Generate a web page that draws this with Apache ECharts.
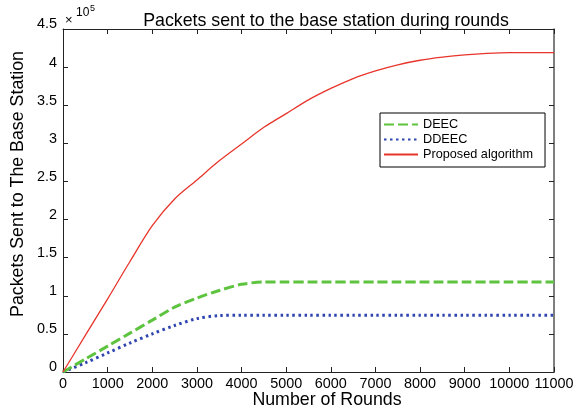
<!DOCTYPE html>
<html>
<head>
<meta charset="utf-8">
<script src="https://cdn.jsdelivr.net/npm/echarts@6/dist/echarts.min.js"></script>
<style>
  html, body { margin: 0; padding: 0; background: #fff; }
  #chart { width: 580px; height: 414px; }
</style>
</head>
<body>
<div id="chart"></div>
<script>
// Simulation rounds (x) sampled every 500 rounds
const rounds = [0, 500, 1000, 1500, 2000, 2500, 3000, 3500, 4000, 4500, 5000, 5500,
  6000, 6500, 7000, 7500, 8000, 8500, 9000, 9500, 10000, 10500, 11000];

// Cumulative packets delivered to the base station
const deec = [0, 17000, 34000, 51000, 68000, 85000, 97000, 107000, 115000, 118000, 118000, 118000,
  118000, 118000, 118000, 118000, 118000, 118000, 118000, 118000, 118000, 118000, 118000];
const ddeec = [0, 12000, 25000, 38000, 50000, 61000, 70000, 74000, 74500, 74500, 74500, 74500,
  74500, 74500, 74500, 74500, 74500, 74500, 74500, 74500, 74500, 74500, 74500];
const proposed = [0, 48000, 96000, 145000, 192000, 227000, 252000, 277000, 299000, 321000, 339000, 357000,
  372000, 385000, 395000, 403000, 409000, 413000, 416000, 418000, 419000, 419000, 419000];

const seriesNames = ['DEEC', 'DDEEC', 'Proposed algorithm'];
const xTicks = { min: 0, max: 11000, step: 1000 };
const yTicks = { min: 0, max: 450000, step: 50000 };

const pairs = ys => rounds.map((r, i) => [r, ys[i]]);

const chart = echarts.init(document.getElementById('chart'), null, { renderer: 'canvas' });
const font = 'Liberation Sans, Arial, Helvetica, sans-serif';
const axisColor = '#222';

const tickLabel = { color: '#000', fontSize: 14.4, fontFamily: font };

chart.setOption({
  backgroundColor: '#fff',
  animation: false,
  title: {
    text: 'Packets sent to the base station during rounds',
    left: 321, top: 7, textAlign: 'center',
    textStyle: { color: '#000', fontSize: 17.8, fontWeight: 'normal', fontFamily: font }
  },
  grid: { left: 63, right: 26, top: 29, bottom: 42, containLabel: false },
  legend: {
    orient: 'vertical',
    left: 380, top: 113,
    itemWidth: 34, itemHeight: 12, itemGap: 2,
    padding: [5, 12, 6, 3],
    borderColor: '#000', borderWidth: 1, backgroundColor: '#fff',
    itemStyle: { opacity: 0 },
    textStyle: { color: '#000', fontSize: 12.7, fontFamily: font },
    data: seriesNames
  },
  xAxis: [{
    type: 'value', min: xTicks.min, max: xTicks.max, interval: xTicks.step,
    axisLine: { show: true, onZero: false, lineStyle: { color: axisColor, width: 1 } },
    axisTick: { show: true, inside: true, length: 5, lineStyle: { color: axisColor } },
    axisLabel: Object.assign({ margin: 5, hideOverlap: false, formatter: v => String(v) }, tickLabel),
    splitLine: { show: false }
  }, {
    type: 'value', position: 'top', min: xTicks.min, max: xTicks.max, interval: xTicks.step,
    axisLine: { show: true, onZero: false, lineStyle: { color: axisColor, width: 1 } },
    axisTick: { show: true, inside: true, length: 5, lineStyle: { color: axisColor } },
    axisLabel: { show: false }, splitLine: { show: false }
  }],
  yAxis: [{
    type: 'value', min: yTicks.min, max: yTicks.max, interval: yTicks.step,
    axisLine: { show: true, onZero: false, lineStyle: { color: axisColor, width: 1 } },
    axisTick: { show: true, inside: true, length: 5, lineStyle: { color: axisColor } },
    axisLabel: Object.assign({
      margin: 6, verticalAlign: 'bottom', lineHeight: 9,
      formatter: v => String(v / 100000)
    }, tickLabel),
    splitLine: { show: false }
  }, {
    type: 'value', position: 'right', min: yTicks.min, max: yTicks.max, interval: yTicks.step,
    axisLine: { show: true, onZero: false, lineStyle: { color: '#555', width: 1.5 } },
    axisTick: { show: true, inside: true, length: 5, lineStyle: { color: axisColor } },
    axisLabel: { show: false }, splitLine: { show: false }
  }],
  graphic: [{
    type: 'text', left: 65, top: 14,
    style: { text: '×', fill: '#000', fontSize: 13, fontFamily: font }
  }, {
    type: 'text', left: 76, top: 7,
    style: { text: '10', fill: '#000', fontSize: 12, fontFamily: font }
  }, {
    type: 'text', left: 90, top: 4,
    style: { text: '5', fill: '#000', fontSize: 9, fontFamily: font }
  }, {
    // x-axis title
    type: 'text', x: 327, y: 400,
    style: { text: 'Number of Rounds', fill: '#000', fontSize: 17.8, fontFamily: font,
      align: 'center', verticalAlign: 'middle' }
  }, {
    // y-axis title, rotated to read bottom-up
    type: 'text', x: 18, y: 184, rotation: Math.PI / 2,
    style: { text: 'Packets Sent to The Base Station', fill: '#000', fontSize: 17.8, fontFamily: font,
      align: 'center', verticalAlign: 'middle' }
  }],
  series: [{
    name: seriesNames[0], type: 'line', data: pairs(deec), smooth: 0.3,
    showSymbol: false, symbol: 'none', z: 3,
    lineStyle: { color: '#5ec43f', width: 3, type: [10, 4], cap: 'butt' },
    itemStyle: { color: '#5ec43f' }
  }, {
    name: seriesNames[1], type: 'line', data: pairs(ddeec), smooth: 0.3,
    showSymbol: false, symbol: 'none', z: 2,
    lineStyle: { color: '#2f45b0', width: 3, type: [2.5, 3.5], cap: 'butt' },
    itemStyle: { color: '#2f45b0' }
  }, {
    name: seriesNames[2], type: 'line', data: pairs(proposed), smooth: 0.3,
    showSymbol: false, symbol: 'none', z: 4,
    lineStyle: { color: '#e8352b', width: 1.3 },
    itemStyle: { color: '#e8352b' }
  }]
});
</script>
</body>
</html>
